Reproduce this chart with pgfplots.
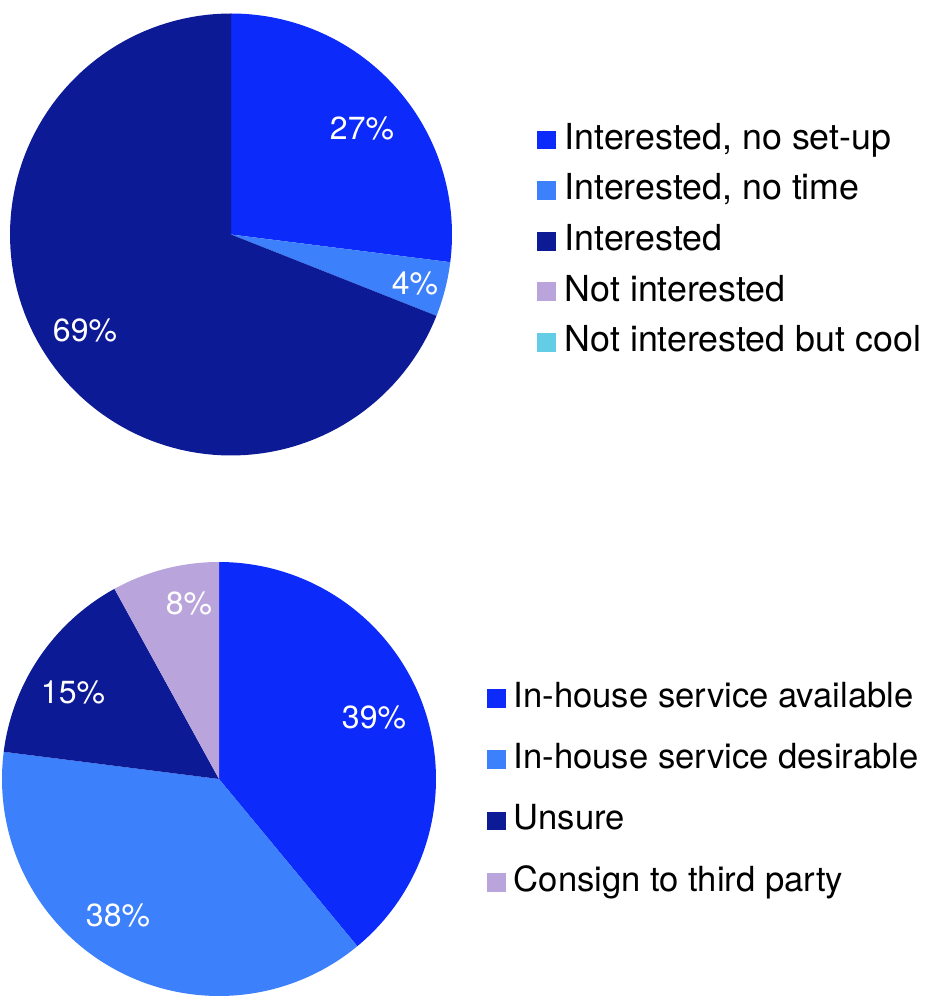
\documentclass[border=0pt]{standalone}
\usepackage{pgfplots}
\pgfplotsset{compat=1.18}
\usepackage{fontspec}
\setmainfont{TeX Gyre Heros}
\definecolor{cA}{RGB}{12,42,250}
\definecolor{cB}{RGB}{60,128,252}
\definecolor{cC}{RGB}{12,26,150}
\definecolor{cD}{RGB}{185,165,220}
\definecolor{cE}{RGB}{100,205,230}
% slice: colour, cx, cy, r, cumulative %, share %
\newcommand{\slice}[6]{%
  \addplot[fill=#1,draw=none,domain={90-3.6*(#5+#6)}:{90-3.6*(#5)},samples=120,variable=\t,forget plot]
    ({#2+#4*cos(\t)},{#3+#4*sin(\t)}) -- (axis cs:#2,#3) -- cycle;}
\pgfplotsset{
  piebase/.style={
    width=464pt, height=498.5pt, scale only axis,
    xmin=0, xmax=928, ymin=0, ymax=997,
    hide axis, clip=false, at={(0,0)}, anchor=south west,
    legend cell align=left,
    legend image code/.code={\fill[##1,draw=none] (0pt,-4.7pt) rectangle (9.4pt,4.7pt);},
  },
}
\tikzset{lab/.style={text=white, font=\fontsize{16}{18}\selectfont, inner sep=0pt}}
\begin{document}
\begin{tikzpicture}
\begin{axis}[piebase,
  legend style={draw=none, fill=none, inner sep=0pt, at={(537/928,874/997)}, anchor=north west,
    font=\fontsize{17.9}{20}\selectfont, row sep=8.7pt,
    nodes={inner sep=0pt, text height=12.9pt, text depth=3.7pt},
    /tikz/every odd column/.append style={column sep=4.3pt}}]
  \path (axis cs:0,0) rectangle (axis cs:928,997);
  % top pie: 27, 4, 69, 0, 0
  \slice{cA}{231}{762.5}{221}{0}{27}
  \slice{cB}{231}{762.5}{221}{27}{4}
  \slice{cC}{231}{762.5}{221}{31}{69}
  \addlegendimage{fill=cA,draw=none}\addlegendentry{Interested, no set-up}
  \addlegendimage{fill=cB,draw=none}\addlegendentry{Interested, no time}
  \addlegendimage{fill=cC,draw=none}\addlegendentry{Interested}
  \addlegendimage{fill=cD,draw=none}\addlegendentry{Not interested}
  \addlegendimage{fill=cE,draw=none}\addlegendentry{Not interested but cool}
  \node[lab] at (axis cs:362,869) {27\%};
  \node[lab] at (axis cs:415,714) {4\%};
  \node[lab] at (axis cs:85,667) {69\%};
\end{axis}
\begin{axis}[piebase,
  legend style={draw=none, fill=none, inner sep=0pt, at={(487/928,315/997)}, anchor=north west,
    font=\fontsize{17.3}{20}\selectfont, row sep=14.5pt,
    nodes={inner sep=0pt, text height=12.5pt, text depth=3.6pt},
    /tikz/every odd column/.append style={column sep=3.8pt}}]
  % bottom pie: 39, 38, 15, 8
  \slice{cA}{219}{218}{217}{0}{39}
  \slice{cB}{219}{218}{217}{39}{38}
  \slice{cC}{219}{218}{217}{77}{15}
  \slice{cD}{219}{218}{217}{92}{8}
  \addlegendimage{fill=cA,draw=none}\addlegendentry{In-house service available}
  \addlegendimage{fill=cB,draw=none}\addlegendentry{In-house service desirable}
  \addlegendimage{fill=cC,draw=none}\addlegendentry{Unsure}
  \addlegendimage{fill=cD,draw=none}\addlegendentry{Consign to third party}
  \node[lab] at (axis cs:374,280) {39\%};
  \node[lab] at (axis cs:118,82) {38\%};
  \node[lab] at (axis cs:73,305) {15\%};
  \node[lab] at (axis cs:189,394) {8\%};
\end{axis}
\end{tikzpicture}
\end{document}
